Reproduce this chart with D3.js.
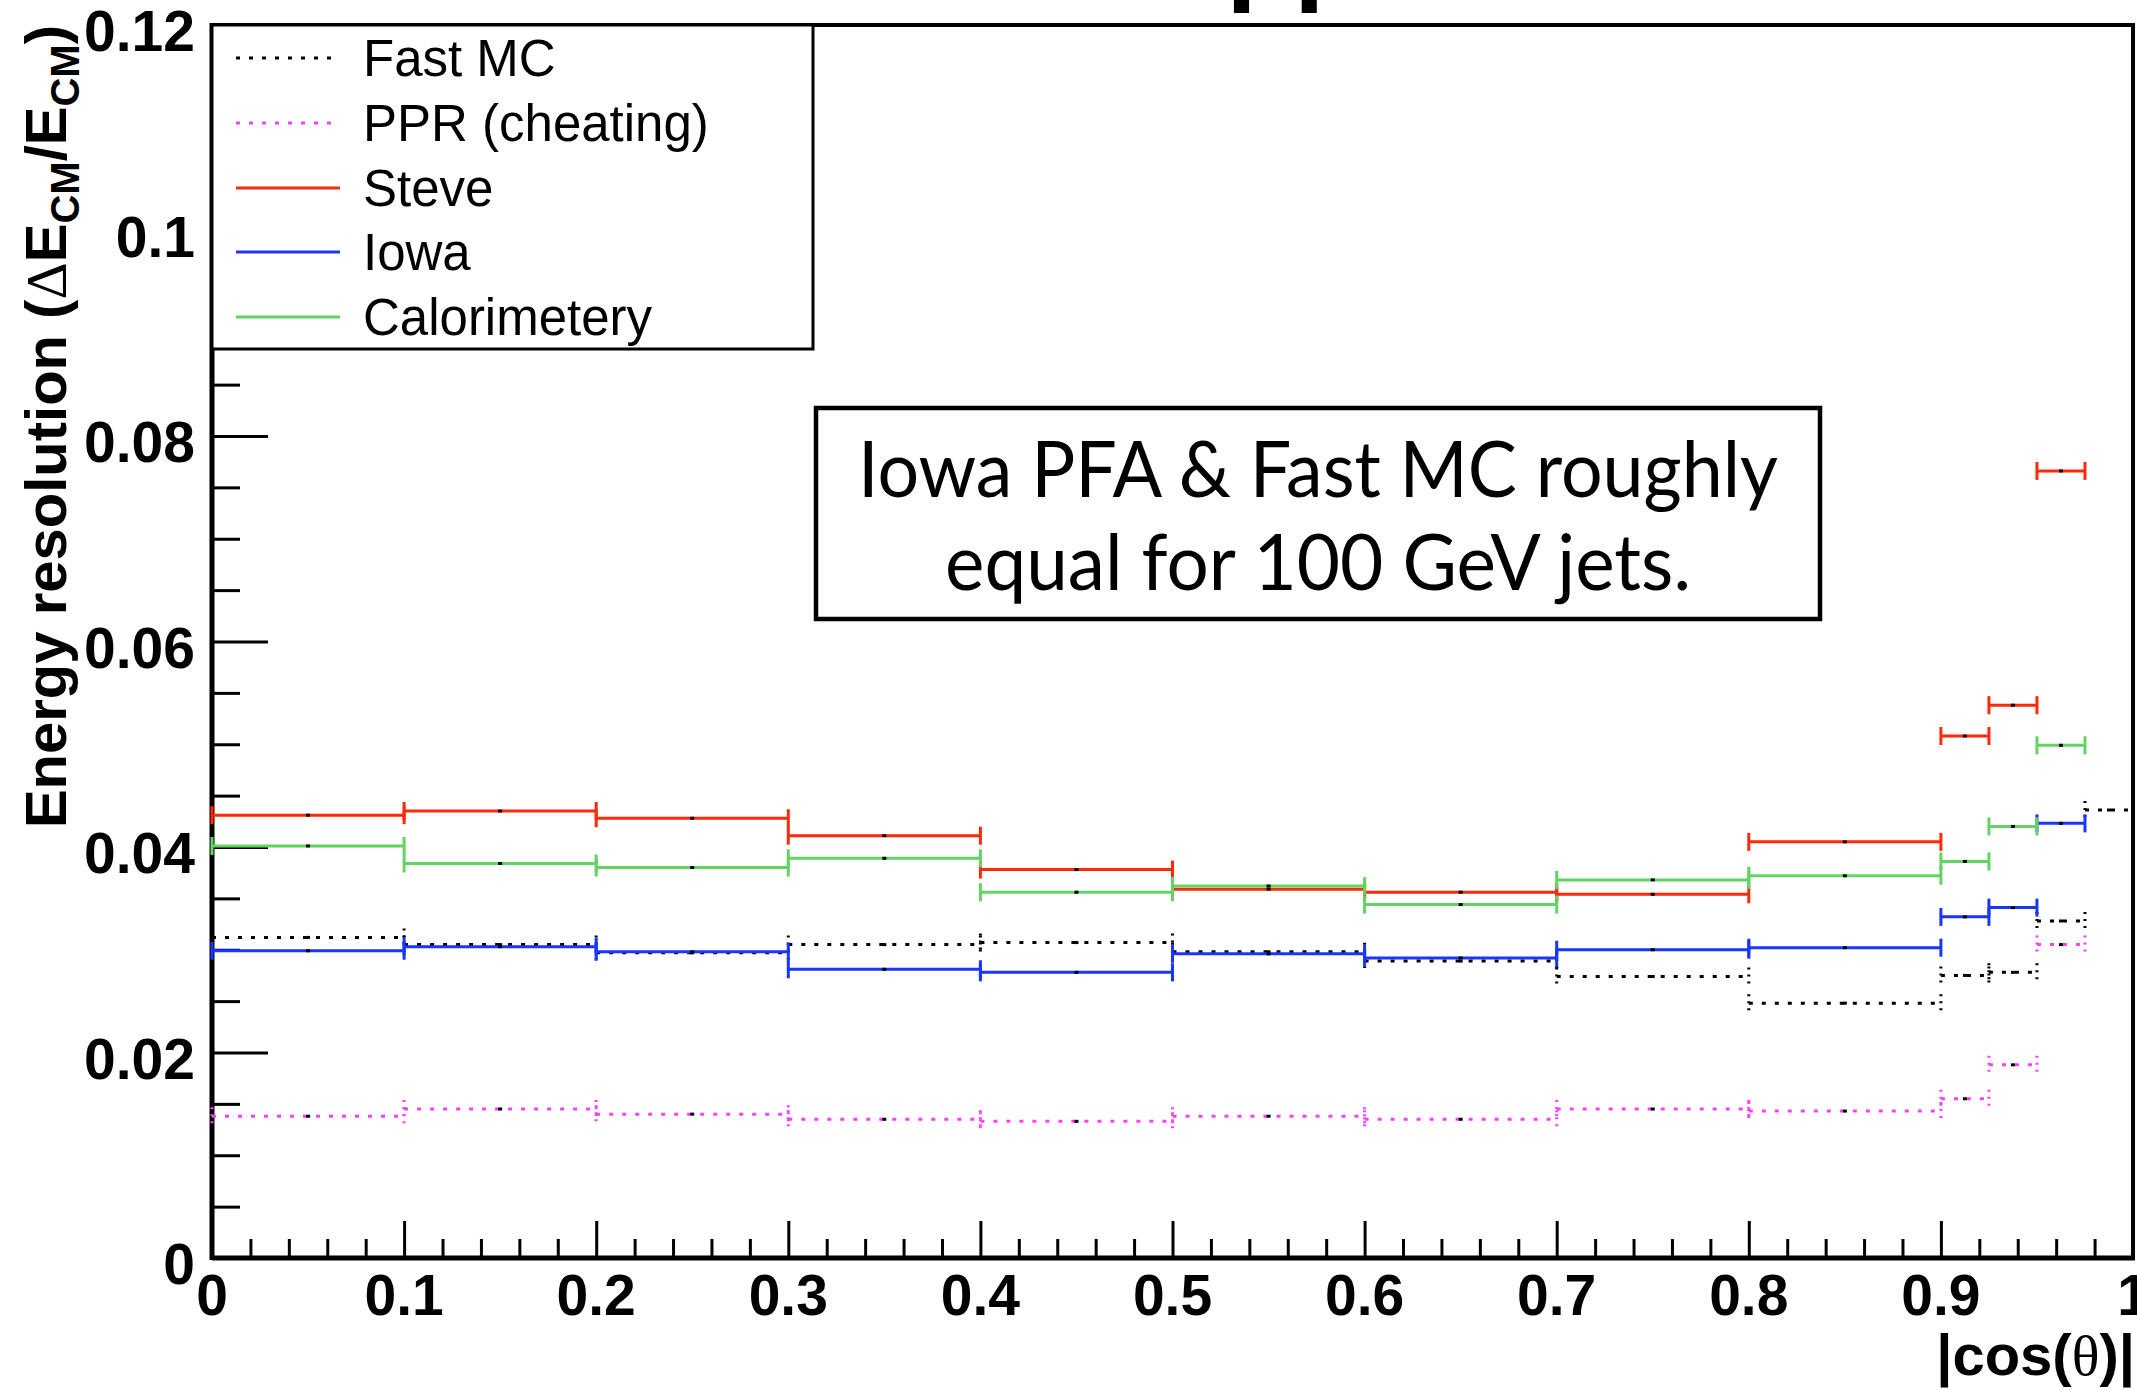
<!DOCTYPE html>
<html><head><meta charset="utf-8">
<script src="https://cdn.jsdelivr.net/npm/d3@7"></script>
<style>body{margin:0;background:#fff;overflow:hidden}</style>
</head><body>
<svg id="c" width="2137" height="1390"></svg>
<script>
// ---------------- data ----------------
const binEdges = [0, 0.1, 0.2, 0.3, 0.4, 0.5, 0.6, 0.7, 0.8, 0.9, 0.925, 0.95, 0.975, 1.0];
const fastMC      = [0.0312, 0.0305, 0.0297, 0.0305, 0.0307, 0.0298, 0.0289, 0.0274, 0.0248, 0.0275, 0.0278, 0.0328, 0.0436];
const ppr         = [0.0138, 0.0145, 0.0140, 0.0135, 0.0133, 0.0138, 0.0135, 0.0145, 0.0143, 0.0155, 0.0188, 0.0305, null];
const steve       = [0.0431, 0.0435, 0.0428, 0.0411, 0.0378, 0.0359, 0.0356, 0.0354, 0.0405, 0.0508, 0.0538, 0.0766, null];
const iowa        = [0.0299, 0.0303, 0.0298, 0.0281, 0.0278, 0.0296, 0.0292, 0.0300, 0.0302, 0.0332, 0.0341, 0.0423, null];
const calorimetry = [0.0401, 0.0384, 0.0380, 0.0389, 0.0356, 0.0362, 0.0344, 0.0368, 0.0372, 0.0386, 0.0420, 0.0499, null];
const seriesNames = ["Fast MC", "PPR (cheating)", "Steve", "Iowa", "Calorimetery"];
const xMajorTicks = [0, 0.1, 0.2, 0.3, 0.4, 0.5, 0.6, 0.7, 0.8, 0.9, 1.0];
const xTickLabels = ["0", "0.1", "0.2", "0.3", "0.4", "0.5", "0.6", "0.7", "0.8", "0.9", "1"];
const yMajorTicks = [0, 0.02, 0.04, 0.06, 0.08, 0.1, 0.12];
const yTickLabels = ["0", "0.02", "0.04", "0.06", "0.08", "0.1", "0.12"];
const noteLines = ["Iowa PFA & Fast MC roughly", "equal for 100 GeV jets."];

// ---------------- setup ----------------
const SANS = "'Liberation Sans', Arial, Helvetica, sans-serif";
const SERIF = "'Liberation Serif', 'DejaVu Serif', serif";
const svg = d3.select("#c");
const L = 212, R = 2133, T = 25, B = 1258;
const x = d3.scaleLinear().domain([0, 1]).range([L, R]);
const y = d3.scaleLinear().domain([0, 0.12]).range([B, T]);

const styles = [
  {values: fastMC, color: "#000000", dash: "4,9"},
  {values: ppr, color: "#ff40ff", dash: "4,9"},
  {values: steve, color: "#ff2a0a", dash: null},
  {values: iowa, color: "#1a35ff", dash: null},
  {values: calorimetry, color: "#63d463", dash: null}
];

// title fragment (clipped at top of the page)
svg.append("text").attr("x", 1189).attr("y", -10)
  .attr("font-family", SANS).attr("font-weight", "bold").attr("font-size", 111)
  .text("qq");

// ---------------- axes ----------------
const xMinor = d3.range(0, 1.0001, 0.02).map(v => +v.toFixed(3)).filter(v => !xMajorTicks.some(m => Math.abs(m - v) < 1e-6));
const yMinor = d3.range(0, 0.12001, 0.005).map(v => +v.toFixed(4)).filter(v => !yMajorTicks.some(m => Math.abs(m - v) < 1e-6));

const gx = svg.append("g").attr("transform", `translate(0,${B})`);
gx.call(d3.axisBottom(x).tickValues(xMajorTicks).tickSize(-37).tickFormat(""));
gx.append("g").call(d3.axisBottom(x).tickValues(xMinor).tickSize(-19).tickFormat(""));
gx.selectAll(".domain").remove();
gx.selectAll("line").attr("stroke", "#000").attr("stroke-width", 3);

const gy = svg.append("g").attr("transform", `translate(${L},0)`);
gy.call(d3.axisLeft(y).tickValues(yMajorTicks).tickSize(-56).tickFormat(""));
gy.append("g").call(d3.axisLeft(y).tickValues(yMinor).tickSize(-28).tickFormat(""));
gy.selectAll(".domain").remove();
gy.selectAll("line").attr("stroke", "#000").attr("stroke-width", 3);

// frame
svg.append("line").attr("x1", L).attr("x2", R + 2).attr("y1", B).attr("y2", B).attr("stroke", "#000").attr("stroke-width", 5);
svg.append("line").attr("x1", L).attr("x2", L).attr("y1", T - 2).attr("y2", B + 2).attr("stroke", "#000").attr("stroke-width", 5);
svg.append("line").attr("x1", L).attr("x2", R + 2).attr("y1", T).attr("y2", T).attr("stroke", "#000").attr("stroke-width", 4);
svg.append("line").attr("x1", R).attr("x2", R).attr("y1", T).attr("y2", B + 2).attr("stroke", "#000").attr("stroke-width", 4);

// tick labels
svg.append("g").selectAll("text").data(xMajorTicks).join("text")
  .attr("x", d => x(d)).attr("y", 1315).attr("text-anchor", "middle")
  .attr("font-family", SANS).attr("font-weight", "bold").attr("font-size", 57)
  .text((d, i) => xTickLabels[i]);
svg.append("g").selectAll("text").data(yMajorTicks).join("text")
  .attr("x", 195).attr("y", d => y(d) + 26).attr("text-anchor", "end")
  .attr("font-family", SANS).attr("font-weight", "bold").attr("font-size", 57)
  .text((d, i) => yTickLabels[i]);

// axis titles
const xt = svg.append("text").attr("x", 2135).attr("y", 1375).attr("text-anchor", "end")
  .attr("font-family", SANS).attr("font-weight", "bold").attr("font-size", 58);
xt.append("tspan").text("|cos(");
xt.append("tspan").attr("font-family", SERIF).attr("font-weight", "normal").text("θ");
xt.append("tspan").text(")|");

const yt = svg.append("text").attr("transform", "translate(66,25) rotate(-90)").attr("text-anchor", "end")
  .attr("font-family", SANS).attr("font-weight", "bold").attr("font-size", 58);
yt.append("tspan").text("Energy resolution (");
yt.append("tspan").attr("font-family", SERIF).attr("font-weight", "normal").text("Δ");
yt.append("tspan").text("E");
yt.append("tspan").attr("font-size", 40).attr("dy", 13).text("CM");
yt.append("tspan").attr("dy", -13).text("/E");
yt.append("tspan").attr("font-size", 40).attr("dy", 13).text("CM");
yt.append("tspan").attr("dy", -13).text(")");

// ---------------- data marks ----------------
const plot = svg.append("g");
styles.forEach(s => {
  const pts = s.values.map((v, i) => ({v, x0: binEdges[i], x1: binEdges[i + 1]})).filter(d => d.v !== null);
  const g = plot.append("g");
  g.selectAll("line.h").data(pts).join("line").attr("class", "h")
    .attr("x1", d => x(d.x0)).attr("x2", d => x(d.x1)).attr("y1", d => y(d.v)).attr("y2", d => y(d.v))
    .attr("stroke", s.color).attr("stroke-width", 3).attr("stroke-dasharray", s.dash);
  ["x0", "x1"].forEach(k => {
    g.selectAll("line.c" + k).data(pts).join("line").attr("class", "c" + k)
      .attr("x1", d => x(d[k])).attr("x2", d => x(d[k]))
      .attr("y1", d => y(d.v) - 9).attr("y2", d => y(d.v) + 9)
      .attr("stroke", s.color).attr("stroke-width", 3)
      .attr("stroke-dasharray", s.dash ? "2,5" : null);
  });
  g.selectAll("rect").data(pts).join("rect")
    .attr("x", d => x((d.x0 + d.x1) / 2) - 2).attr("y", d => y(d.v) - 1.5)
    .attr("width", 4).attr("height", 3).attr("fill", "#000");
});

// ---------------- legend ----------------
const lg = svg.append("g");
lg.append("rect").attr("x", 212).attr("y", 25).attr("width", 601).attr("height", 324)
  .attr("fill", "#fff").attr("stroke", "#000").attr("stroke-width", 3);
const rowY = [58, 123, 188, 252, 317];
seriesNames.forEach((name, i) => {
  lg.append("line").attr("x1", 236).attr("x2", 340).attr("y1", rowY[i]).attr("y2", rowY[i])
    .attr("stroke", styles[i].color).attr("stroke-width", 3).attr("stroke-dasharray", styles[i].dash);
  lg.append("text").attr("x", 363).attr("y", rowY[i] + 18)
    .attr("font-family", SANS).attr("font-size", 51).text(name);
});

// ---------------- note box ----------------
const nb = svg.append("g");
nb.append("rect").attr("x", 816).attr("y", 408).attr("width", 1004).attr("height", 211)
  .attr("fill", "#fff").attr("stroke", "#000").attr("stroke-width", 4.5);
const noteY = [497, 590], noteW = [920, 746];
noteLines.forEach((t, i) => {
  nb.append("text").attr("x", 1318).attr("y", noteY[i]).attr("text-anchor", "middle")
    .attr("font-family", "Lato, 'Open Sans', sans-serif").attr("font-size", 78)
    .attr("textLength", noteW[i]).attr("lengthAdjust", "spacingAndGlyphs").text(t);
});
</script>
</body></html>
